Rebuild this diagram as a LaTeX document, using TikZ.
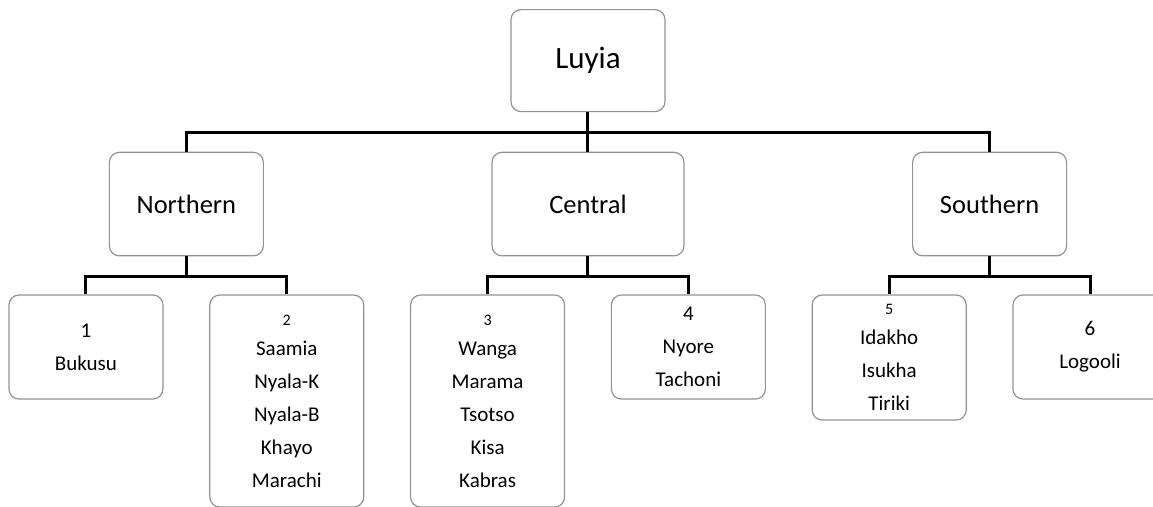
\documentclass[tikz,border=0pt]{standalone}
\usepackage{fontspec}
\setmainfont{Carlito}
\usepackage{tikz}
\usepackage{tikz-qtree}

\begin{document}
\begin{tikzpicture}
        \tikzset{every tree node/.style={anchor=north},
          langbox/.style={draw=gray!85,line width=1.2pt,rounded corners=10pt,align=center,
            minimum width=154pt,inner sep=0pt},
          rootbox/.style={langbox,minimum height=102pt,font=\fontsize{31}{37}\selectfont},
          groupbox/.style={langbox,minimum height=103.5pt,font=\fontsize{26.5}{32}\selectfont},
          leafbox/.style={langbox,minimum height=104pt,font=\fontsize{21}{33}\selectfont},
          edge from parent/.style=
          {draw,line width=3pt,edge from parent path={(\tikzparentnode.south) -- ++(0,-20.5pt) -| (\tikzchildnode.north)}},
          level distance=142.7pt,sibling distance=45.6pt}
          \newcommand{\smalldigit}[1]{{\fontsize{16}{20}\selectfont #1}}
          \useasboundingbox (-588pt,9pt) rectangle (565pt,-497pt);
          \Tree [.\node(luyia)[rootbox]{Luyia};
                  [.\node(northern)[groupbox]{Northern};
                    \node(bukusu)[leafbox]{1\\Bukusu};
                    \node(saamia)[leafbox,minimum height=212pt]{\smalldigit{2}\\[-3pt]Saamia\\Nyala-K\\Nyala-B\\Khayo\\Marachi}; ]
                  [.\node(central)[groupbox,minimum width=192pt]{Central};
                    \node(wanga)[leafbox,minimum height=212pt]{\smalldigit{3}\\[-3pt]Wanga\\Marama\\Tsotso\\Kisa\\Kabras};
                    \node(nyore)[leafbox]{4\\Nyore\\Tachoni}; ]
                  [.\node(southern)[groupbox]{Southern};
                    \node(idakho)[leafbox,minimum height=125pt]{\smalldigit{5}\\[-3pt]Idakho\\Isukha\\Tiriki};
                    \node(logooli)[leafbox]{6\\Logooli}; ]]
      \end{tikzpicture}
\end{document}
